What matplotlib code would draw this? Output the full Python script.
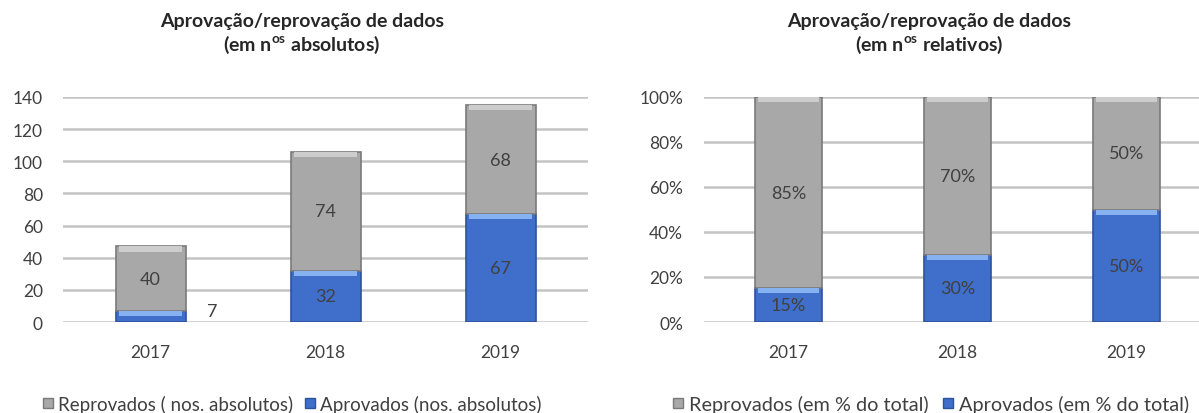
import numpy as np
import matplotlib
matplotlib.use("Agg")
import matplotlib.pyplot as plt
from matplotlib.lines import Line2D

plt.rcParams['font.family'] = ['Lato', 'DejaVu Sans']
plt.rcParams['mathtext.fontset'] = 'custom'
plt.rcParams['mathtext.rm'] = 'Lato'
plt.rcParams['mathtext.bf'] = 'Lato:bold'

# data
years = ["2017", "2018", "2019"]
aprovados_abs = [7, 32, 67]
reprovados_abs = [40, 74, 68]
aprovados_pct = [0.15, 0.30, 0.50]
reprovados_pct = [0.85, 0.70, 0.50]

abs_ticks = [0, 20, 40, 60, 80, 100, 120, 140]
pct_ticks = [0, 0.2, 0.4, 0.6, 0.8, 1.0]
pct_labels = ["0%", "20%", "40%", "60%", "80%", "100%"]

GREY = "#a8a8a8"
GREY_HI = "#cdcdcd"
GREY_EDGE = "#7a7a7a"
BLUE = "#3f6fca"
BLUE_HI = "#86b2f2"
BLUE_EDGE = "#2d5399"
TXT = "#404040"

W, H = 1199, 414
fig = plt.figure(figsize=(W / 100, H / 100), dpi=100)


def px_axes(x0, x1, y_top, y_bot):
    return fig.add_axes([x0 / W, 1 - y_bot / H, (x1 - x0) / W, (y_bot - y_top) / H])


def bevel_bars(ax, x, bottoms, heights, color, hi, edge, hi_h):
    ax.bar(x, heights, 0.4, bottom=bottoms, color=color, edgecolor=edge,
           linewidth=1.2, zorder=3)
    hh = [min(hi_h, h) for h in heights]
    tops = [b + h - s for b, h, s in zip(bottoms, heights, hh)]
    ax.bar(x, hh, 0.36, bottom=tops, color=hi, linewidth=0, zorder=4)


def style(ax, ticks, labels, ymax, pad):
    ax.set_ylim(0, ymax)
    ax.set_yticks(ticks)
    ax.set_yticklabels(labels)
    ax.set_xticks(range(len(years)))
    ax.set_xticklabels(years)
    for s in ax.spines.values():
        s.set_visible(False)
    ax.tick_params(length=0, labelsize=12.5, colors=TXT)
    ax.tick_params(axis='y', pad=pad)
    ax.tick_params(axis='x', pad=16)
    ax.yaxis.grid(True, color="#c4c4c4", linewidth=1.8, zorder=0)
    ax.set_axisbelow(True)


def title(xc, line2):
    fig.text(xc / W, 1 - 22 / H, "Aprovação/reprovação de dados",
             ha='center', va='center', fontsize=14, fontweight='bold', color="#262626")
    fig.text(xc / W, 1 - 45 / H, line2,
             ha='center', va='center', fontsize=14, fontweight='bold', color="#262626")


def legend(x_left, labels, size, gap):
    handles = [Line2D([], [], marker='s', linestyle='none', markersize=7.5,
                      markerfacecolor=c, markeredgecolor=e, label=l)
               for c, e, l in zip([GREY, BLUE], [GREY_EDGE, BLUE_EDGE], labels)]
    fig.legend(handles=handles, loc='center left', bbox_to_anchor=(x_left / W, 1 - 405 / H),
               ncol=2, frameon=False, fontsize=size, handlelength=0.6, handletextpad=0.25,
               columnspacing=gap, borderpad=0, borderaxespad=0, labelcolor=TXT)


x = np.arange(len(years))

# left chart: absolute numbers
ax1 = px_axes(63, 588, 98, 323)
ax1.set_xlim(-0.5, 2.5)
bevel_bars(ax1, x, [0] * 3, aprovados_abs, BLUE, BLUE_HI, BLUE_EDGE, 3.2)
bevel_bars(ax1, x, aprovados_abs, reprovados_abs, GREY, GREY_HI, GREY_EDGE, 3.2)
style(ax1, abs_ticks, [str(t) for t in abs_ticks], 140, 14.5)
for i in range(len(years)):
    ax1.text(i, aprovados_abs[i] + reprovados_abs[i] / 2, str(reprovados_abs[i]),
             ha='center', va='center', fontsize=13, color=TXT, zorder=5)
    if aprovados_abs[i] >= 15:
        ax1.text(i, aprovados_abs[i] / 2, str(aprovados_abs[i]),
                 ha='center', va='center', fontsize=13, color=TXT, zorder=5)
    else:
        ax1.text(i + 0.35, aprovados_abs[i], str(aprovados_abs[i]),
                 ha='center', va='center', fontsize=13, color=TXT, zorder=5)

title(302, r"(em n$^{\mathbf{os}}$ absolutos)")
legend(42, ["Reprovados ( nos. absolutos)", "Aprovados (nos. absolutos)"], 13.5, 0.6)

# right chart: relative numbers
ax2 = px_axes(704, 1211, 98, 323)
ax2.set_xlim(-0.5, 2.5)
bevel_bars(ax2, x, [0] * 3, aprovados_pct, BLUE, BLUE_HI, BLUE_EDGE, 0.023)
bevel_bars(ax2, x, aprovados_pct, reprovados_pct, GREY, GREY_HI, GREY_EDGE, 0.023)
style(ax2, pct_ticks, pct_labels, 1.0, 15)
for i in range(len(years)):
    ax2.text(i, aprovados_pct[i] + reprovados_pct[i] / 2, f"{reprovados_pct[i]:.0%}",
             ha='center', va='center', fontsize=13, color=TXT, zorder=5)
    ax2.text(i, aprovados_pct[i] / 2, f"{aprovados_pct[i]:.0%}",
             ha='center', va='center', fontsize=13, color=TXT, zorder=5)

title(929, r"(em n$^{\mathbf{os}}$ relativos)")
legend(672, ["Reprovados (em % do total)", "Aprovados (em % do total)"], 14.3, 0.7)

fig.savefig("out.png", dpi=100)
